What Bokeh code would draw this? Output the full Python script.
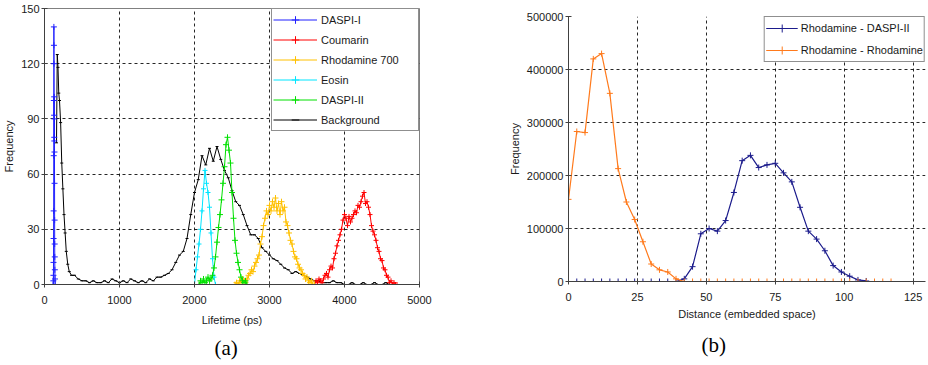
from bokeh.plotting import figure
from bokeh.layouts import row, column
from bokeh.models import (Legend, LegendItem, Title, FixedTicker,
                          BasicTickFormatter, Range1d)
from bokeh.embed import file_html
from bokeh.resources import INLINE

# ---------------- data: chart (a) ----------------
daspi1_x = [116, 118, 119, 120, 121, 122, 123, 124, 125, 126, 127, 128, 129, 130,
            131, 132, 133, 134, 135, 136, 137, 138, 140, 142]
daspi1_y = [0, 2, 5, 12, 25, 40, 70, 100, 140, 130, 120, 92, 102, 80,
            78, 90, 72, 55, 35, 22, 15, 8, 3, 0]

coumarin_x = list(range(3600, 4701, 20))
coumarin_y = [0, 2, 1, 3, 2, 1, 3, 5, 6, 4,
              8, 10, 9, 14, 17, 21, 24, 27, 30, 35,
              38, 36, 32, 37, 34, 36, 38, 40, 39, 43,
              42, 45, 48, 50, 44, 45, 42, 38, 32, 29,
              27, 24, 20, 18, 14, 13, 9, 8, 5, 4,
              1, 2, 0, 1, 0, 0]

rhod700_x = list(range(2540, 3601, 20))
rhod700_y = [0, 1, 0, 2, 1, 3, 2, 1, 3, 5,
             6, 8, 7, 10, 12, 14, 16, 22, 26, 32,
             36, 40, 38, 43, 40, 45, 42, 47, 40, 44,
             38, 45, 40, 42, 34, 32, 28, 24, 22, 18,
             15, 14, 11, 9, 8, 6, 5, 3, 4, 2,
             1, 2, 0, 0]

eosin_x = list(range(2000, 2281, 20))
eosin_y = [0, 8, 15, 22, 30, 40, 52, 62, 55, 50, 42, 28, 14, 4, 0]

daspi2_x = list(range(2060, 2701, 20))
daspi2_y = [0, 2, 1, 3, 1, 2, 4, 2, 3, 5,
            9, 15, 23, 31, 38, 46, 55, 64, 76, 80,
            73, 66, 50, 36, 24, 17, 12, 8, 4, 2,
            1, 2, 0]

bg_x = [160, 170, 180, 190, 200, 215, 230, 245, 260, 275, 290, 310, 330, 360] + \
       list(range(400, 4701, 50))
bg_y = [77, 125, 118, 104, 100, 88, 66, 52, 38, 28, 18, 11, 7, 5,
        5, 3, 2, 2, 1, 2, 1, 1, 2, 1,          # 400-850
        3, 2, 1, 2, 1, 3, 2, 1, 2, 1,          # 900-1350
        3, 2, 4, 4, 5, 6, 8, 12, 16, 18,       # 1400-1850
        25, 38, 50, 57, 70, 65, 74, 67, 75, 68,  # 1900-2350
        62, 58, 51, 45, 43, 38, 32, 27, 27, 25,  # 2400-2850
        20, 18, 16, 14, 13, 11, 9, 8, 6, 7,    # 2900-3350
        6, 5, 4, 3, 2, 2, 1, 1, 1, 2,          # 3400-3850
        1, 1, 0, 0, 1, 0, 0, 1, 0, 0,          # 3900-4350
        1, 0, 0, 1, 0, 0, 0]                   # 4400-4700

a_xticks = [0, 1000, 2000, 3000, 4000, 5000]
a_yticks = [0, 30, 60, 90, 120, 150]

# ---------------- data: chart (b) ----------------
dist_x = list(range(0, 118, 3))
rr_y = [155000, 283000, 281000, 420000, 430000, 355000, 213000, 150000,
        117000, 75000, 33000, 22000, 18000, 5000, 0] + [0] * 25
rd_x = list(range(0, 109, 3))
rd_y = [0] * 14 + [5000, 28000, 90000, 100000, 95000, 115000, 168000, 228000,
                   238000, 215000, 220000, 223000, 205000, 188000, 140000,
                   95000, 80000, 58000, 30000, 18000, 10000, 3000, 1000]
b_xticks = [0, 25, 50, 75, 100, 125]
b_yticks = [0, 100000, 200000, 300000, 400000, 500000]

SANS = "Liberation Sans"
SERIF = "Liberation Serif"
TXT = "#1a1a1a"


def base_style(p, xticks, yticks):
    for ax in (p.xaxis[0], p.yaxis[0]):
        ax.axis_line_color = "#404040"
        ax.major_tick_line_color = "#404040"
        ax.major_tick_in = 3
        ax.major_tick_out = 3
        ax.minor_tick_line_color = None
        ax.major_label_text_font = SANS
        ax.major_label_text_font_size = "11px"
        ax.major_label_text_color = TXT
        ax.axis_label_text_font = SANS
        ax.axis_label_text_font_size = "11px"
        ax.axis_label_text_font_style = "normal"
        ax.axis_label_text_color = TXT
        ax.major_label_standoff = 2
        ax.axis_label_standoff = 3
    p.xaxis[0].ticker = FixedTicker(ticks=xticks)
    p.yaxis[0].ticker = FixedTicker(ticks=yticks)
    p.yaxis[0].formatter = BasicTickFormatter(use_scientific=False)
    for g in (p.xgrid[0], p.ygrid[0]):
        g.grid_line_color = "black"
        g.grid_line_dash = "3 3"
        g.grid_line_width = 1
        g.grid_line_alpha = 0.85
    p.background_fill_color = "white"
    p.border_fill_color = "white"


# ---------------- figure (a) ----------------
pa = figure(width=463, height=365, output_backend="svg", toolbar_location=None,
            x_range=Range1d(0, 5000), y_range=Range1d(0, 150),
            min_border_left=43, min_border_right=44, min_border_top=8,
            min_border_bottom=80)
pa.xaxis.axis_label = "Lifetime (ps)"
pa.yaxis.axis_label = "Frequency"
base_style(pa, a_xticks, a_yticks)
pa.xaxis[0].major_label_standoff = 8
pa.xaxis[0].axis_label_standoff = 7
pa.outline_line_color = "#808080"

series_a = [
    ("Background", bg_x, bg_y, "black", "dash", 3),
    ("DASPI-I", daspi1_x, daspi1_y, "#2020FF", "cross", 6),
    ("Coumarin", coumarin_x, coumarin_y, "#FF0000", "cross", 5),
    ("Rhodamine 700", rhod700_x, rhod700_y, "#FFC000", "cross", 6),
    ("Eosin", eosin_x, eosin_y, "#00E5FF", "cross", 5),
    ("DASPI-II", daspi2_x, daspi2_y, "#00E000", "cross", 6),
]
items_a = {}
for name, xs, ys, col, mk, sz in series_a:
    lr = pa.line(xs, ys, line_color=col, line_width=1)
    sr = pa.scatter(xs, ys, marker=mk, size=sz, line_color=col, line_width=1)
    items_a[name] = [lr, sr]

legend_order_a = ["DASPI-I", "Coumarin", "Rhodamine 700", "Eosin", "DASPI-II", "Background"]
leg_a = Legend(items=[LegendItem(label=n, renderers=items_a[n]) for n in legend_order_a],
               location="top_right", margin=0, padding=1, spacing=1,
               glyph_width=44, glyph_height=19, label_height=19, label_standoff=4,
               label_width=96,
               label_text_font=SANS, label_text_font_size="11px",
               label_text_color=TXT, border_line_color="#202020",
               border_line_width=1, background_fill_alpha=1)
pa.add_layout(leg_a)
pa.add_layout(Title(text="(a)", align="left", offset=170, text_font=SERIF,
                    text_font_size="21px", text_font_style="normal",
                    text_color="black", standoff=11), "below")

# ---------------- figure (b) ----------------
pb = figure(width=463, height=365, output_backend="svg", toolbar_location=None,
            x_range=Range1d(0, 129.5), y_range=Range1d(0, 500000),
            min_border_left=105, min_border_right=1, min_border_top=16,
            min_border_bottom=83)
pb.xaxis.axis_label = "Distance (embedded space)"
pb.yaxis.axis_label = "Frequency"
base_style(pb, b_xticks, b_yticks)
pb.xaxis[0].major_label_standoff = 8
pb.xaxis[0].axis_label_standoff = 4
pb.outline_line_color = None

rd_l = pb.line(rd_x, rd_y, line_color="#1C1C8C", line_width=1.2)
rd_s = pb.scatter(rd_x, rd_y, marker="cross", size=6, line_color="#1C1C8C", line_width=1)
rr_l = pb.line(dist_x, rr_y, line_color="#FF7A1C", line_width=1.2)
rr_s = pb.scatter(dist_x, rr_y, marker="cross", size=6, line_color="#FF7A1C", line_width=1)

leg_b = Legend(items=[LegendItem(label="Rhodamine - DASPI-II", renderers=[rd_l, rd_s]),
                      LegendItem(label="Rhodamine - Rhodamine", renderers=[rr_l, rr_s])],
               location="top_right", margin=0, padding=1, spacing=2,
               glyph_width=32, glyph_height=20, label_height=20, label_standoff=3,
               label_text_font=SANS, label_text_font_size="11px",
               label_text_color=TXT, border_line_color="#202020",
               border_line_width=1, background_fill_alpha=1)
pb.add_layout(leg_b)
pb.add_layout(Title(text="(b)", align="left", offset=133, text_font=SERIF,
                    text_font_size="21px", text_font_style="normal",
                    text_color="black", standoff=17), "below")

layout = row(column(pa), column(pb), spacing=0)
open("out.html", "w").write(file_html(layout, INLINE))
